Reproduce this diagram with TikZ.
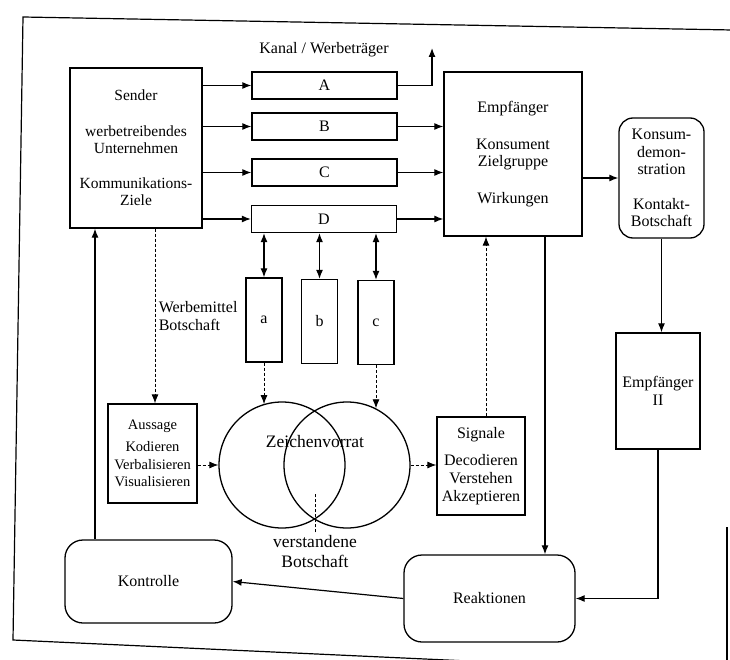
\documentclass[tikz,border=0pt]{standalone}
\usepackage{fontspec}
\setmainfont{Liberation Serif}
\usetikzlibrary{arrows.meta}

\tikzset{
	box/.style={draw, line width=1.3pt, inner sep=1pt, align=center},
	rbox/.style={box, rounded corners=14pt},
	kreis/.style={draw, line width=1.3pt, circle, minimum size=126pt, inner sep=0pt},
	pfeil/.style={-{Latex[length=9pt,width=7pt]}, line width=1.2pt},
	dpfeil/.style={{Latex[length=9pt,width=7pt]}-{Latex[length=9pt,width=7pt]}, line width=1.2pt},
	gestr/.style={pfeil, densely dashed, line width=0.9pt},
}

\begin{document}
\begin{tikzpicture}[x=1pt,y=-1pt,font=\fontsize{16}{17.5}\selectfont]
			\useasboundingbox (0,0) rectangle (730,660);
			\draw[line width=1.2pt] (732,30) -- (23,17) -- (13,640) -- (620,668);
			\draw[line width=1.2pt] (727,527) -- (727,662);

			\node[box, minimum width=132, minimum height=160, font=\fontsize{15.5}{17}\selectfont] (sender) at (136,148) {Sender\\[19pt]werbetreibendes\\Unternehmen\\[18pt]Kommunikations-\\Ziele};
			\node (kanal) at (324,50) {Kanal / Werbeträger};
			\node[box, minimum width=145, minimum height=27] (kA) at (324.5,85.5) {A};
			\node[box, minimum width=145, minimum height=27] (kB) at (324.5,126.5) {B};
			\node[box, minimum width=145, minimum height=27] (kC) at (324.5,172.5) {C};
			\node[box, minimum width=145, minimum height=27] (kD) at (324,219) {D};
			\node[box, minimum width=138, minimum height=164] (empf) at (513,154) {Empfänger\\[19pt]Konsument\\Zielgruppe\\[19pt]Wirkungen};
			\node[rbox, minimum width=85, minimum height=120] (konsum) at (661.5,178) {Konsum-\\demon-\\stration\\[17pt]Kontakt-\\Botschaft};
			\node[box, minimum width=84, minimum height=116] (empf2) at (658,391) {Empfänger\\II};

			\node[box, minimum width=36, minimum height=84] (wa) at (264,320) {a};
			\node[box, minimum width=36, minimum height=84] (wb) at (319.5,321.5) {b};
			\node[box, minimum width=36, minimum height=84] (wc) at (376,322.5) {c};

			\node[box, minimum width=89, minimum height=99, font=\fontsize{14.5}{17.5}\selectfont] (aussage) at (152.5,453.5) {Aussage\\[5pt]Kodieren\\Verbalisieren\\Visualisieren};
			\node[kreis] (lkreis) at (282,465) {};
			\node[kreis] (rkreis) at (347,465) {};
			\node[font=\fontsize{17.5}{20}\selectfont] (zv) at (315,442) {Zeichenvorrat};
			\node[align=center, font=\fontsize{17.5}{20}\selectfont] (verst) at (315,552) {verstandene\\Botschaft};
			\node[box, minimum width=88, minimum height=98, font=\fontsize{16}{18}\selectfont] (signale) at (481,466) {Signale\\[9pt]Decodieren\\Verstehen\\Akzeptieren};

			\node[rbox, rounded corners=18pt, minimum width=171, minimum height=87] (reakt) at (489.5,598.5) {Reaktionen};
			\node[rbox, rounded corners=18pt, minimum width=167, minimum height=83] (kontr) at (148.5,581.5) {Kontrolle};

			\foreach \k in {A,B,C,D}
				\draw[pfeil] (sender.east |- k\k.west) -- (k\k.west);
			\coordinate (oben) at (432,48);
			\draw[pfeil] (kA.east) -| (oben);
			\foreach \k in {B,C,D}
				\draw[pfeil] (k\k.east) -- (empf.west |- k\k.east);
			\draw[pfeil] (empf.east |- konsum.west) -- (konsum.west);
			\draw[pfeil] (konsum.south) -- (konsum.south |- empf2.north);
			\draw[pfeil] (empf2.south) |- (reakt.east);
			\draw[pfeil] ([xshift=32]empf.south) -- ([xshift=32]empf.south |- reakt.north);
			\draw[pfeil] (reakt.west) -- (kontr.east);
			\draw[pfeil] ([xshift=-41]sender.south |- kontr.north) -- ([xshift=-41]sender.south);
			\draw[gestr] ([xshift=19]sender.south) -- ([xshift=19]sender.south |- aussage.north) node[midway, right, align=left] {Werbemittel\\Botschaft};
			\foreach \w in {wa,wb,wc}
				\draw[dpfeil] (kD.south -| \w.north) -- (\w.north);
			\draw[gestr] (wa.south) -- (wa.south |- lkreis.107);
			\draw[gestr] (wc.south) -- (wc.south |- rkreis.63);
			\draw[gestr] (aussage.east |- lkreis.west) -- (lkreis.west);
			\draw[gestr] (rkreis.east) -- (signale.west |- rkreis.east);
			\draw[gestr] ([xshift=5]signale.north) -- ([xshift=5]signale.north |- empf.south);
			\draw[densely dashed, line width=0.9pt] (verst.north) -- ++(0,-38);
		\end{tikzpicture}
\end{document}
